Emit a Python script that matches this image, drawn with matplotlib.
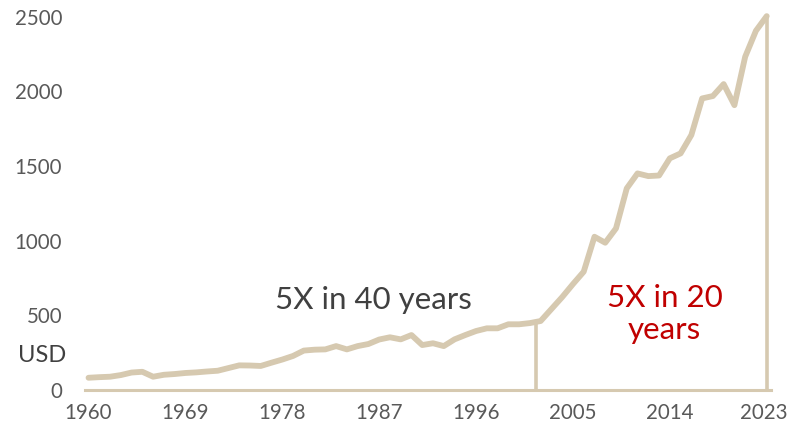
import numpy as np
import matplotlib
matplotlib.use("Agg")
import matplotlib.pyplot as plt
from matplotlib.transforms import ScaledTranslation

plt.rcParams['font.family'] = ['Lato', 'DejaVu Sans']

# yearly values, USD
years = np.arange(1960, 2024)
usd = [82, 86, 89, 100, 117, 122, 89, 102, 107, 114,
       118, 124, 129, 147, 165, 164, 161, 183, 204, 228,
       264, 270, 272, 294, 272, 294, 308, 338, 353, 339,
       368, 301, 313, 294, 339, 368, 395, 413, 413, 440,
       440, 448, 462, 542, 622, 709, 792, 1026, 986, 1082,
       1350, 1450, 1432, 1436, 1551, 1584, 1707, 1952, 1968, 2048,
       1907, 2231, 2405, 2503]
tick_years = [1960, 1969, 1978, 1987, 1996, 2005, 2014, 2023]
y_ticks = [0, 500, 1000, 1500, 2000, 2500]
split_year = 2001.6

line_col = '#D6C9B0'
label_col = '#595959'

fig = plt.figure(figsize=(7.89, 4.32), dpi=100)
ax = fig.add_axes([0.1077, 0.0972, 0.8695, 0.899])

ax.plot(years, usd, color=line_col, lw=4.2, solid_capstyle='round', solid_joinstyle='round', zorder=3)

# split markers: 40-year period vs last 20 years
ax.vlines([split_year], 0, np.interp(split_year, years, usd), color=line_col, lw=2.6, zorder=2)
ax.vlines([years[-1]], 0, usd[-1], color=line_col, lw=2.6, zorder=2)

ax.set_xlim(1959.67, 2023.4)
ax.set_ylim(0, 2600)
ax.set_xticks(tick_years)
ax.set_yticks(y_ticks)
ax.tick_params(axis='both', length=0, labelsize=14.8, labelcolor=label_col)
ax.tick_params(axis='x', pad=9)
ax.tick_params(axis='y', pad=16.5)

# keep the last year label inside the canvas
last = ax.get_xticklabels()[-1]
last.set_transform(last.get_transform() + ScaledTranslation(-3 / 100, 0, fig.dpi_scale_trans))

for s in ['top', 'right', 'left']:
    ax.spines[s].set_visible(False)
ax.spines['bottom'].set_color(line_col)
ax.spines['bottom'].set_linewidth(2.2)

ax.text(1986.5, 605, '5X in 40 years', fontsize=22.5, color='#404040', ha='center', va='center')
ax.text(2013.5, 510, '5X in 20\nyears', fontsize=22.5, color='#C00000', ha='center', va='center',
        linespacing=1.2)

fig.text(42 / 789, 1 - 356 / 432, 'USD', fontsize=17, color='#404040', ha='center', va='center')

fig.savefig('out.png', dpi=100)
